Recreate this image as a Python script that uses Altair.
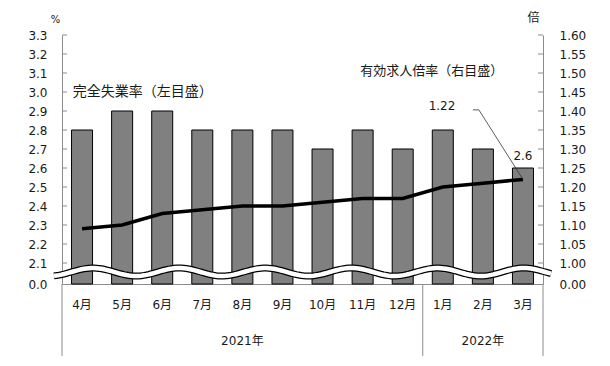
import altair as alt
import pandas as pd
import numpy as np

# ---- data ----
months = ["4月", "5月", "6月", "7月", "8月", "9月", "10月", "11月", "12月", "1月", "2月", "3月"]
unemp = [2.8, 2.9, 2.9, 2.8, 2.8, 2.8, 2.7, 2.8, 2.7, 2.8, 2.7, 2.6]          # 完全失業率 (%)
ratio = [1.09, 1.10, 1.13, 1.14, 1.15, 1.15, 1.16, 1.17, 1.17, 1.20, 1.21, 1.22]  # 有効求人倍率 (倍)
years = ["2021年", "2022年"]
year_mid = ["8月", "2月"]
year_bounds = [0, 9, 12]
left_ticks = [2.1, 2.2, 2.3, 2.4, 2.5, 2.6, 2.7, 2.8, 2.9, 3.0, 3.1, 3.2, 3.3]
right_ticks = [1.00, 1.05, 1.10, 1.15, 1.20, 1.25, 1.30, 1.35, 1.40, 1.45, 1.50, 1.55, 1.60]

# ---- layout ----
W, H = 481, 249
L0 = 1.9895   # where 0.0 sits on the broken left scale
R0 = 0.94474  # where 0.00 sits on the broken right scale
FONT = "DejaVu Sans, Noto Sans CJK JP"
JFONT = "Noto Sans CJK JP"
GRAY = "#8c8c8c"
TXT = "#1a1a1a"

df = pd.DataFrame({"month": months, "u": unemp, "r": ratio, "base": [L0] * len(months)})
last = df.iloc[[-1]].copy()
last["ulab"] = last["u"].map(lambda v: f"{v:.1f}")

xb = alt.Scale(domain=months, paddingInner=0.476, paddingOuter=0.238)
xq = alt.Scale(domain=[0, 12], nice=False, zero=False)
yl = alt.Scale(domain=[L0, 3.3], nice=False, zero=False)
yr = alt.Scale(domain=[R0, 1.6], nice=False, zero=False)

bars = alt.Chart(df).mark_bar(fill="#808080", stroke="#000", strokeWidth=1).encode(
    x=alt.X("month:N", scale=xb, sort=months,
            axis=alt.Axis(title=None, labelAngle=0, ticks=False, tickSize=0, labelPadding=15,
                          domainColor=GRAY, labelFont=FONT, labelFontSize=12, labelColor=TXT)),
    y=alt.Y("u:Q", scale=yl,
            axis=alt.Axis(orient="left", values=left_ticks + [L0],
                          labelExpr="datum.value < 2 ? '0.0' : format(datum.value, '.1f')",
                          ticks=False, tickSize=0, labelPadding=15, domainColor=GRAY,
                          labelFont=FONT, labelFontSize=12, labelColor=TXT,
                          title="%", titleAngle=0, titleX=-7, titleY=-16, titleAlign="center",
                          titleBaseline="middle", titleFont=FONT, titleFontSize=10,
                          titleFontWeight="normal", titleColor=TXT)),
    y2="base:Q",
)

line = alt.Chart(df).mark_line(color="#000", strokeWidth=3.5).encode(
    x=alt.X("month:N", scale=xb, sort=months, axis=None),
    y=alt.Y("r:Q", scale=yr,
            axis=alt.Axis(orient="right", values=right_ticks + [R0],
                          labelExpr="datum.value < 0.99 ? '0.00' : format(datum.value, '.2f')",
                          ticks=False, tickSize=0, labelPadding=16, domainColor=GRAY,
                          labelFont=FONT, labelFontSize=12, labelColor=TXT,
                          title="倍", titleAngle=0, titleX=-10, titleY=-18, titleAlign="center",
                          titleBaseline="middle", titleFont=JFONT, titleFontSize=12,
                          titleFontWeight="normal", titleColor=TXT)),
)

lab26 = alt.Chart(last).mark_text(dy=-12, font=FONT, fontSize=12, color=TXT).encode(
    x=alt.X("month:N", scale=xb, sort=months, axis=None),
    y=alt.Y("u:Q", scale=yl, axis=None),
    text="ulab:N",
)

# axis break decoration (wavy band)
wx = np.linspace(-0.2, 12.2, 200)
wave = pd.DataFrame({"x": wx, "y": 2.0526 + 0.021 * np.cos(2 * np.pi * (wx - 0.77) / 2.15)})
wave_b = alt.Chart(wave).mark_line(color="#000", strokeWidth=7).encode(
    x=alt.X("x:Q", scale=xq, axis=None), y=alt.Y("y:Q", scale=yl, axis=None))
wave_w = alt.Chart(wave).mark_line(color="#fff", strokeWidth=4.5).encode(
    x=alt.X("x:Q", scale=xq, axis=None), y=alt.Y("y:Q", scale=yl, axis=None))

seps = alt.Chart(pd.DataFrame({"b": year_bounds})).mark_rule(color=GRAY, strokeWidth=1).encode(
    x=alt.X("b:Q", scale=xq, axis=None), y=alt.value(H), y2=alt.value(H + 72))

lt = alt.Chart(pd.DataFrame({"t": left_ticks})).mark_rule(color=GRAY).encode(
    y=alt.Y("t:Q", scale=yl, axis=None), x=alt.value(0), x2=alt.value(5))
rt = alt.Chart(pd.DataFrame({"t": right_ticks})).mark_rule(color=GRAY).encode(
    y=alt.Y("t:Q", scale=yr, axis=None), x=alt.value(W - 5), x2=alt.value(W))

yr_text = alt.Chart(pd.DataFrame({"year": years, "mid": year_mid})).mark_text(
    font=FONT, fontSize=12, color=TXT).encode(
    x=alt.X("mid:N", scale=xb, sort=months, axis=None), y=alt.value(H + 57), text="year:N")

ann_l = alt.Chart(pd.DataFrame({"x": [0.27], "y": [3.0], "t": ["完全失業率（左目盛）"]})).mark_text(
    align="left", baseline="middle", font=JFONT, fontSize=14, color=TXT).encode(
    x=alt.X("x:Q", scale=xq, axis=None), y=alt.Y("y:Q", scale=yl, axis=None), text="t:N")
ann_r = alt.Chart(pd.DataFrame({"x": [7.44], "y": [1.505], "t": ["有効求人倍率（右目盛）"]})).mark_text(
    align="left", baseline="middle", font=JFONT, fontSize=13, color=TXT).encode(
    x=alt.X("x:Q", scale=xq, axis=None), y=alt.Y("y:Q", scale=yr, axis=None), text="t:N")
ann_122 = alt.Chart(pd.DataFrame({"x": [9.48], "y": [1.413], "t": [f"{ratio[-1]:.2f}"]})).mark_text(
    align="center", baseline="middle", font=FONT, fontSize=12, color=TXT).encode(
    x=alt.X("x:Q", scale=xq, axis=None), y=alt.Y("y:Q", scale=yr, axis=None), text="t:N")
leader = alt.Chart(pd.DataFrame({"x": [10.25, 10.40, 11.5], "y": [1.403, 1.403, ratio[-1]],
                                 "o": [0, 1, 2]})).mark_line(color="#333", strokeWidth=0.8).encode(
    x=alt.X("x:Q", scale=xq, axis=None), y=alt.Y("y:Q", scale=yr, axis=None), order="o:Q")

chart = alt.layer(
    bars, line, lt, rt, lab26, wave_b, wave_w, seps, yr_text, ann_l, ann_r, leader, ann_122
).resolve_scale(x="independent", y="independent").properties(
    width=W, height=H,
    padding={"left": 54, "top": 27, "right": 59, "bottom": 74},
    autosize=alt.AutoSizeParams(type="none"),
).configure_view(stroke=None).configure_axis(grid=False)

chart.save("out.html", embed_options={"renderer": "svg", "actions": False})
